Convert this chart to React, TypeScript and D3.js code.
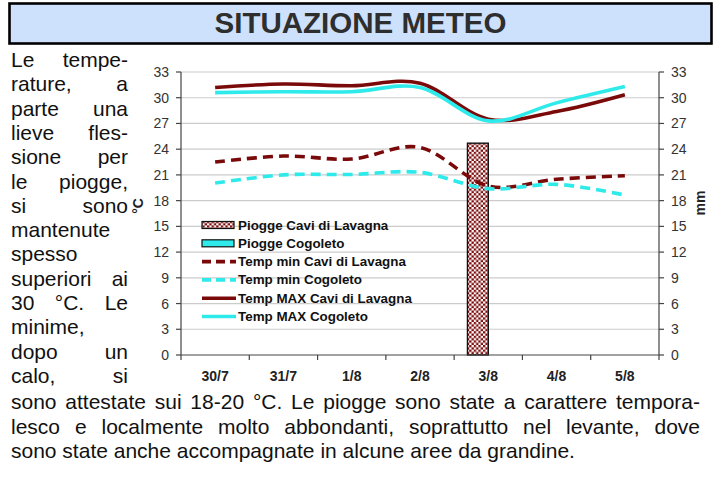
import React, { useMemo } from "react";
import * as d3 from "d3";

// ---- data ----
const categories = ["30/7", "31/7", "1/8", "2/8", "3/8", "4/8", "5/8"];
const rainCavi = [0, 0, 0, 0, 24.7, 0, 0];
const rainCogoleto = [0, 0, 0, 0, 0, 0, 0];
const minCavi = [22.5, 23.2, 22.85, 24.2, 19.7, 20.5, 20.9];
const minCogoleto = [20.05, 21.0, 21.05, 21.3, 19.4, 19.9, 18.65];
const maxCavi = [31.2, 31.6, 31.4, 31.7, 27.5, 28.4, 30.35];
const maxCogoleto = [30.6, 30.7, 30.7, 31.2, 27.3, 29.4, 31.3];
const yTicks = [0, 3, 6, 9, 12, 15, 18, 21, 24, 27, 30, 33];

const titleText = "SITUAZIONE METEO";
const leftLines = [
  "Le tempe-",
  "rature, a",
  "parte una",
  "lieve fles-",
  "sione per",
  "le piogge,",
  "si sono",
  "mantenute",
  "spesso",
  "superiori ai",
  "30 °C. Le",
  "minime,",
  "dopo un",
  "calo, si",
];
const bottomLines = [
  "sono attestate sui 18-20 °C. Le piogge sono state a carattere tempora-",
  "lesco e localmente molto abbondanti, soprattutto nel levante, dove",
  "sono state anche accompagnate in alcune aree da grandine.",
];

const legendItems = [
  { label: "Piogge Cavi di Lavagna", kind: "checker" },
  { label: "Piogge Cogoleto", kind: "rectCyan" },
  { label: "Temp min Cavi di Lavagna", kind: "dashRed" },
  { label: "Temp min Cogoleto", kind: "dashCyan" },
  { label: "Temp MAX Cavi di Lavagna", kind: "solidRed" },
  { label: "Temp MAX Cogoleto", kind: "solidCyan" },
];

const RED = "#7a0a0a";
const CYAN = "#2eeaea";
const FONT = "'Liberation Sans', Arial, Helvetica, sans-serif";
const BODY_SIZE = 21;

function useMeasure() {
  return useMemo(() => {
    const c = document.createElement("canvas");
    const ctx = c.getContext("2d")!;
    ctx.font = `${BODY_SIZE}px 'Liberation Sans'`;
    return (s: string) => ctx.measureText(s).width;
  }, []);
}

function JustifiedLine({ text, x0, x1, y, justify, measure }: any) {
  const words = text.split(" ");
  if (!justify || words.length < 2) {
    return (
      <text x={x0} y={y} fontSize={BODY_SIZE} fontFamily={FONT} fill="#111">
        {text}
      </text>
    );
  }
  const widths = words.map((w: string) => measure(w));
  const total = widths.reduce((a: number, b: number) => a + b, 0);
  const gap = (x1 - x0 - total) / (words.length - 1);
  let cx = x0;
  const els = words.map((w: string, i: number) => {
    const last = i === words.length - 1;
    const el = (
      <text key={i} x={last ? x1 : cx} y={y} textAnchor={last ? "end" : "start"} fontSize={BODY_SIZE} fontFamily={FONT} fill="#111">
        {w}
      </text>
    );
    cx += widths[i] + gap;
    return el;
  });
  return <g>{els}</g>;
}

export default function App() {
  const measure = useMeasure();
  const W = 719, H = 482;
  const left = 181, right = 659, top = 72, bottom = 355;

  const x = d3.scaleBand<string>().domain(categories).range([left, right]).padding(0);
  const bw = x.bandwidth();
  const y = d3.scaleLinear().domain([0, 33]).range([bottom, top]);
  const yR = d3.scaleLinear().domain([0, 33]).range([bottom, top]);
  const cx = (i: number) => (x(categories[i]) as number) + bw / 2;

  const line = d3
    .line<number>()
    .x((_, i) => cx(i))
    .y((d) => y(d))
    .curve(d3.curveCardinal.tension(0));

  const barW = bw * 0.305;
  const boundaries = categories.map((c) => x(c) as number).concat([right]);

  const leftJustify = [true, true, true, true, true, true, true, false, false, true, true, false, true, true];
  const lineY0 = 67;
  const pitch = 24.3;

  return (
    <svg width={W} height={H} style={{ position: "absolute", left: 0, top: 0, background: "#fff" }}>
      <defs>
        <pattern id="checker" width="4.6" height="4.6" patternUnits="userSpaceOnUse">
          <rect width="4.6" height="4.6" fill="#ffffff" />
          <rect width="2.3" height="2.3" fill={RED} />
          <rect x="2.3" y="2.3" width="2.3" height="2.3" fill={RED} />
        </pattern>
      </defs>

      {/* title box */}
      <rect x={9.5} y={3.5} width={702} height={40} fill="#cde0fc" stroke="#000" strokeWidth={2.6} />
      <text x={360.5} y={33} textAnchor="middle" fontSize={29} fontWeight="bold" fontFamily={FONT} fill="#2e2e2e" textLength={292} lengthAdjust="spacingAndGlyphs">
        {titleText}
      </text>

      {/* left column text */}
      {leftLines.map((t, i) => (
        <JustifiedLine key={i} text={t} x0={11} x1={128} y={lineY0 + i * pitch} justify={leftJustify[i]} measure={measure} />
      ))}
      {bottomLines.map((t, i) => (
        <JustifiedLine key={"b" + i} text={t} x0={11} x1={700} y={lineY0 + 2 + (14 + i) * pitch} justify={i < 2} measure={measure} />
      ))}

      {/* gridlines */}
      {yTicks.filter((t) => t > 0).map((t) => (
        <line key={t} x1={left} x2={right} y1={y(t)} y2={y(t)} stroke="#cccccc" strokeWidth={1.2} />
      ))}

      {/* bars */}
      {categories.map((c, i) => (
        <g key={c}>
          {rainCavi[i] > 0 && (
            <rect x={cx(i) - barW} y={yR(rainCavi[i])} width={barW} height={bottom - yR(rainCavi[i])} fill="url(#checker)" stroke="#111" strokeWidth={1.4} />
          )}
          {rainCogoleto[i] > 0 && (
            <rect x={cx(i)} y={yR(rainCogoleto[i])} width={barW} height={bottom - yR(rainCogoleto[i])} fill={CYAN} stroke="#111" strokeWidth={1.4} />
          )}
        </g>
      ))}

      {/* axes */}
      <line x1={left} x2={left} y1={top} y2={bottom} stroke="#444" strokeWidth={1.2} />
      <line x1={right} x2={right} y1={top} y2={bottom} stroke="#444" strokeWidth={1.2} />
      <line x1={left} x2={right} y1={bottom} y2={bottom} stroke="#444" strokeWidth={1.2} />
      {yTicks.map((t) => (
        <g key={"yt" + t}>
          <line x1={left - 5} x2={left} y1={y(t)} y2={y(t)} stroke="#444" strokeWidth={1.2} />
          <text x={169} y={y(t) + 5} textAnchor="end" fontSize={14} fontFamily={FONT} fill="#333">
            {t}
          </text>
          <line x1={right} x2={right + 5} y1={yR(t)} y2={yR(t)} stroke="#444" strokeWidth={1.2} />
          <text x={671} y={yR(t) + 5} textAnchor="start" fontSize={14} fontFamily={FONT} fill="#333">
            {t}
          </text>
        </g>
      ))}
      {boundaries.map((b, i) => (
        <line key={"xt" + i} x1={b} x2={b} y1={bottom} y2={bottom + 5} stroke="#444" strokeWidth={1.2} />
      ))}
      {categories.map((c, i) => (
        <text key={"xl" + c} x={cx(i)} y={381} textAnchor="middle" fontSize={14} fontWeight="bold" fontFamily={FONT} fill="#222">
          {c}
        </text>
      ))}
      <text transform={`translate(143,206) rotate(-90)`} textAnchor="middle" fontSize={14} fontWeight="bold" fontFamily={FONT} fill="#222">
        °C
      </text>
      <text transform={`translate(705,203) rotate(-90)`} textAnchor="middle" fontSize={14} fontWeight="bold" fontFamily={FONT} fill="#222">
        mm
      </text>

      {/* lines */}
      <path d={line(minCavi) || ""} fill="none" stroke={RED} strokeWidth={3.6} strokeDasharray="10,6" />
      <path d={line(minCogoleto) || ""} fill="none" stroke={CYAN} strokeWidth={3.6} strokeDasharray="10,6" />
      <path d={line(maxCavi) || ""} fill="none" stroke={RED} strokeWidth={3.6} />
      <path d={line(maxCogoleto) || ""} fill="none" stroke={CYAN} strokeWidth={3.6} />

      {/* legend */}
      {legendItems.map((it, i) => {
        const ly = 225 + i * 18.3;
        let sym: any = null;
        if (it.kind === "checker") sym = <rect x={202} y={ly - 3.5} width={32} height={7} fill="url(#checker)" stroke="#111" strokeWidth={1.2} />;
        else if (it.kind === "rectCyan") sym = <rect x={202} y={ly - 3.5} width={32} height={7} fill={CYAN} stroke="#111" strokeWidth={1.2} />;
        else {
          const col = it.kind.endsWith("Red") ? RED : CYAN;
          const dash = it.kind.startsWith("dash") ? "9,5" : undefined;
          sym = <line x1={202} x2={236} y1={ly} y2={ly} stroke={col} strokeWidth={3.6} strokeDasharray={dash} />;
        }
        return (
          <g key={it.label}>
            {sym}
            <text x={238} y={ly + 4.5} fontSize={13.4} fontWeight="bold" fontFamily={FONT} fill="#111">
              {it.label}
            </text>
          </g>
        );
      })}
    </svg>
  );
}
